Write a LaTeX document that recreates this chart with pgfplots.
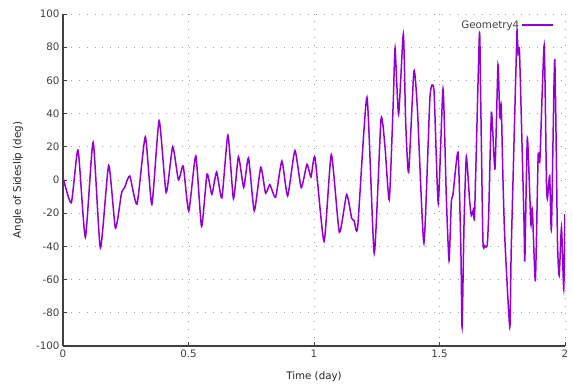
\documentclass[border=0pt]{standalone}
\usepackage{pgfplots}
\pgfplotsset{compat=1.18}
\usepackage{fontspec}
\setmainfont{DejaVu Sans}
\definecolor{gpviolet}{HTML}{9400D3}
\definecolor{axisgray}{HTML}{404040}
\definecolor{gridgray}{HTML}{A0A0A0}

\begin{document}
\begin{tikzpicture}[x=1pt,y=1pt]
\begin{axis}[
  at={(0,0)}, anchor=south west,
  scale only axis, width=502pt, height=332pt,
  xmin=0, xmax=2, ymin=-100, ymax=100,
  xtick={0,0.5,1,1.5,2},
  ytick={-100,-80,...,100},
  axis lines=left,
  axis line style={-, line width=1.4pt, color=axisgray},
  tick align=inside,
  major tick length=4pt,
  tick style={line width=0.9pt, color=axisgray},
  grid=major,
  major grid style={gridgray, line width=0.9pt, dash pattern=on 0.9pt off 7pt},
  /pgf/number format/assume math mode=true,
  tick label style={font=\fontsize{10.3}{12}\selectfont, text=axisgray},
  xlabel={Time (day)},
  ylabel={Angle of Sideslip (deg)},
  label style={font=\fontsize{10.3}{12}\selectfont, text=black!85},
  xlabel style={at={(axis description cs:0.5,-0.0934)}, anchor=center},
  ylabel style={at={(axis description cs:-0.0896,0.5)}, anchor=center, rotate=0},
  legend plot pos=right,
  legend cell align=right,
  legend style={draw=none, fill=none, at={(0.98,0.99)}, anchor=north east,
    font=\fontsize{10.3}{12}\selectfont, text=axisgray, inner sep=1pt},
  legend image code/.code={\draw[#1] (0pt,0pt) -- (31pt,0pt);},
  clip=true,
]
\addplot[gpviolet, line width=1.5pt, smooth, tension=0.33] coordinates {
(0.000,1.5) (0.033,-13.7) (0.060,18) (0.089,-34.5) (0.120,22.7) (0.149,-41)
(0.182,8.8) (0.209,-29) (0.233,-8) (0.246,-4.4) (0.266,2.4) (0.295,-14.5)
(0.328,26) (0.354,-14.7) (0.383,35.7) (0.411,-7.6) (0.437,20) (0.460,0)
(0.479,8.4) (0.501,-18.7) (0.529,14.5) (0.552,-28) (0.574,3.6) (0.593,-8.6)
(0.612,4.8) (0.633,-10.8) (0.657,27) (0.679,-11.2) (0.699,14) (0.720,-4.4)
(0.739,13.3) (0.762,-18.5) (0.788,7.6) (0.807,-8) (0.824,-2.8) (0.847,-10.4)
(0.872,11.4) (0.895,-9.6) (0.924,17.7) (0.949,-4.6) (0.972,9.4) (0.988,1.8)
(1.004,13.5) (1.040,-37) (1.069,15.3) (1.101,-31.5) (1.130,-8.8) (1.150,-23)
(1.160,-24.5) (1.174,-28.5) (1.211,49.8) (1.240,-44.2) (1.267,36.7) (1.283,19.7)
(1.300,-12) (1.316,48) (1.323,79.5) (1.337,39.4) (1.356,88) (1.365,35.7)
(1.377,4.6) (1.398,65.5) (1.412,42.8) (1.438,-38) (1.462,49.8) (1.478,54)
(1.495,-14) (1.514,54.8) (1.527,-9.4) (1.538,-48.6) (1.547,-13.4) (1.554,-8.4)
(1.574,16.7) (1.585,-40.5) (1.590,-88.7) (1.598,-24.5) (1.607,14) (1.620,-12.5)
(1.627,-21.5) (1.635,-18) (1.640,-20) (1.659,88) (1.664,49.8) (1.673,-36.5)
(1.680,-39.6) (1.690,-39.6) (1.696,-20.5) (1.707,40.8) (1.721,6.6) (1.733,69.5)
(1.740,38) (1.746,44.8) (1.753,-0.4) (1.760,-34.5) (1.780,-88.7) (1.786,-40.5)
(1.808,86) (1.810,86) (1.814,76) (1.819,76) (1.836,-20.5) (1.840,-48.6) (1.850,25.3)
(1.864,-26.5) (1.870,-17.5) (1.882,-60.6) (1.893,14.6) (1.900,12) (1.917,81)
(1.926,-0.4) (1.930,-11.4) (1.939,2.6) (1.946,-29.5) (1.959,73) (1.970,-36.5)
(1.977,-57.6) (1.986,-28.5) (1.995,-65.7) (2.000,-20.5)
};
\addlegendentry{Geometry4}
\end{axis}
\pgfresetboundingbox
\path (-63pt,-41pt) rectangle (510pt,346pt);
\end{tikzpicture}
\end{document}
